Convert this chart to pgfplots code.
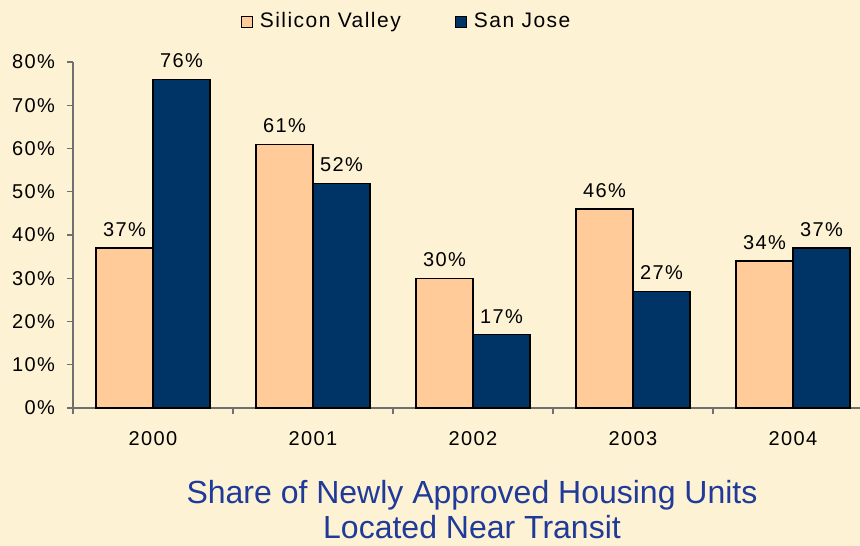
\documentclass[border=0pt]{standalone}
\usepackage{fontspec}
\setmainfont[LetterSpace=7]{Liberation Sans}
\newfontfamily\titlefont{Liberation Sans}
\usepackage{pgfplots}
\pgfplotsset{compat=1.18}
\definecolor{bgcream}{HTML}{FDF2D3}
\definecolor{peach}{HTML}{FFCC99}
\definecolor{navy}{HTML}{003366}
\definecolor{titleblue}{HTML}{1F3A99}
\definecolor{axisgray}{HTML}{707070}

\begin{document}
\begin{tikzpicture}
\useasboundingbox (-36.5bp,-69bp) rectangle (393.5bp,204bp);
\fill[bgcream] (-36.5bp,-69bp) rectangle (393.5bp,204bp);
\begin{axis}[
    scale only axis,
    width=393.5bp, height=173bp,
    ybar=0pt, bar width=28.5bp,
    xmin=-0.5, xmax=4.419,
    ymin=0, ymax=80,
    axis x line=bottom, axis y line=left,
    axis line style={axisgray, line width=0.6bp, -},
    xtick={0,1,2,3,4},
    xticklabels={2000,2001,2002,2003,2004},
    minor xtick={-0.5,0.5,1.5,2.5,3.5},
    major x tick style={draw=none},
    minor x tick style={axisgray, line width=0.6bp},
    minor tick length=3bp,
    ytick={0,10,...,80},
    yticklabel={\pgfmathprintnumber{\tick}\%},
    y tick style={axisgray, line width=0.6bp},
    major tick length=3bp,
    tick align=outside,
    xticklabel style={yshift=-5bp},
    yticklabel style={xshift=-2.5bp},
    /pgf/number format/assume math mode=true,
    tick label style={font=\fontsize{10bp}{12bp}\selectfont, black},
    nodes near coords={\pgfmathprintnumber{\pgfplotspointmeta}\%},
    every node near coord/.append style={font=\fontsize{10bp}{12bp}\selectfont, black, yshift=2bp},
    legend style={at={(0.425,1.116)}, anchor=center, draw=none, fill=none,
        legend columns=2, font=\fontsize{10.5bp}{12bp}\selectfont,
        /tikz/every odd column/.append style={column sep=1.5bp},
        /tikz/every even column/.append style={column sep=25bp}},
    legend image code/.code={\draw[#1, draw=black, line width=0.5bp] (0bp,-2.8bp) rectangle (5.6bp,2.8bp);},
    clip=false,
]
\addplot[fill=peach, draw=black, line width=0.6bp] coordinates {(0,37) (1,61) (2,30) (3,46) (4,34)};
\addplot[fill=navy, draw=black, line width=0.6bp] coordinates {(0,76) (1,52) (2,17) (3,27) (4,37)};
\legend{Silicon Valley, San Jose}
\end{axis}
\node[text=titleblue, font=\titlefont\fontsize{16bp}{17.5bp}\selectfont, align=center] at (199.5bp,-51bp) {Share of Newly Approved Housing Units\\Located Near Transit};
\end{tikzpicture}
\end{document}
